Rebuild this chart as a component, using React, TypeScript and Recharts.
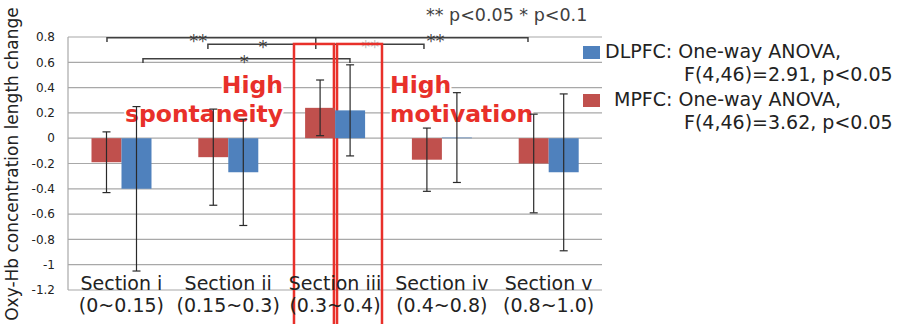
import { BarChart, Bar, XAxis, YAxis, CartesianGrid, ErrorBar, Legend } from "recharts";

// ── Data ─────────────────────────────────────────────────────────────────────

const sections = ["Section i", "Section ii", "Section iii", "Section iv", "Section v"];
const ranges = ["(0~0.15)", "(0.15~0.3)", "(0.3~0.4)", "(0.4~0.8)", "(0.8~1.0)"];
const mpfc = [-0.19, -0.15, 0.24, -0.17, -0.2];
const mpfcErr = [0.24, 0.38, 0.22, 0.25, 0.39];
const dlpfc = [-0.4, -0.27, 0.22, 0.005, -0.27];
const dlpfcErr = [0.65, 0.42, 0.36, 0.355, 0.62];
const yTicks = [-1.2, -1, -0.8, -0.6, -0.4, -0.2, 0, 0.2, 0.4, 0.6, 0.8];

const legendOrder = ["DLPFC", "MPFC"];
const legendText: Record<string, string[]> = {
  DLPFC: ["DLPFC: One-way ANOVA,", "F(4,46)=2.91, p<0.05"],
  MPFC: ["MPFC: One-way ANOVA,", "F(4,46)=3.62, p<0.05"],
};

const data = sections.map((s, i) => ({
  name: s,
  range: ranges[i],
  mpfc: mpfc[i],
  mpfcErr: mpfcErr[i],
  dlpfc: dlpfc[i],
  dlpfcErr: dlpfcErr[i],
}));

// ── Layout ───────────────────────────────────────────────────────────────────

const W = 906;
const H = 324;
const LEFT = 68;
const TOP = 37;
const RIGHT = 602;
const BOTTOM = 290;
const BAND = (RIGHT - LEFT) / sections.length;
const PER_UNIT = (BOTTOM - TOP) / 2.0;

const RED = "#C0504D";
const BLUE = "#4F81BD";
const HILITE = "#E8302A";
const FONT = "'DejaVu Sans', Verdana, sans-serif";

// annotation helpers (category position -> px, value -> px)
const px = (n: number) => LEFT + n * BAND;
const py = (v: number) => TOP + (0.8 - v) * PER_UNIT;

// significance brackets in category units / axis values
const brackets = [
  { x1: 0.365, x2: 4.307, y: 0.795, drop: 0.76 },
  { x1: 1.31, x2: 3.333, y: 0.742, drop: 0.705 },
  { x1: 0.702, x2: 2.64, y: 0.628, drop: 0.595 },
];
const stars = [
  { x: 1.22, y: 0.795, t: "**", o: 1 },
  { x: 3.44, y: 0.795, t: "**", o: 1 },
  { x: 1.826, y: 0.742, t: "*", o: 1 },
  { x: 2.83, y: 0.742, t: "**", o: 0.35 },
  { x: 1.65, y: 0.628, t: "*", o: 1 },
];

const SectionTick = (props: any) => {
  const { x, payload } = props;
  const i = payload.index;
  return (
    <g>
      <text x={x} y={BOTTOM} textAnchor="middle" fontSize={19} fill="#222" fontFamily={FONT}>
        {sections[i]}
      </text>
      <text x={x} y={BOTTOM + 22} textAnchor="middle" fontSize={19} fill="#222" fontFamily={FONT}>
        {ranges[i]}
      </text>
    </g>
  );
};

const fmt = (v: number) => String(Math.round(v * 10) / 10);

const LegendBox = (props: any) => {
  const payload = props.payload || [];
  const items = legendOrder
    .map((n) => payload.find((p: any) => p.value === n))
    .filter(Boolean);
  return (
    <svg width={328} height={100} style={{ display: "block" }}>
      {items.map((it: any, k: number) => {
        const lines = legendText[it.value] || [it.value];
        const top = k * 48;
        return (
          <g key={it.value} fontFamily={FONT} fontSize={19} fill="#222">
            <rect x={5} y={top + 6} width={17} height={13} fill={it.color} />
            <text x={k === 0 ? 27 : 36} y={top + 18}>{lines[0]}</text>
            <text x={106} y={top + 41}>{lines[1]}</text>
          </g>
        );
      })}
    </svg>
  );
};

export default function App() {
  return (
    <div style={{ position: "absolute", left: 0, top: 0, width: W, height: H, background: "#fff", fontFamily: FONT }}>
      <BarChart
        width={W}
        height={H}
        data={data}
        margin={{ top: TOP, right: W - RIGHT, left: 0, bottom: 0 }}
        barCategoryGap="22%"
        barGap={0}
      >
        <CartesianGrid vertical={false} stroke="#a8a8a8" strokeWidth={1.2} />
        <XAxis
          dataKey="name"
          height={H - BOTTOM}
          axisLine={false}
          tickLine={false}
          tick={<SectionTick />}
          interval={0}
        />
        <YAxis
          width={LEFT}
          domain={[-1.2, 0.8]}
          ticks={yTicks}
          tickFormatter={fmt}
          axisLine={{ stroke: "#a8a8a8", strokeWidth: 1.2 }}
          tickLine={false}
          tickSize={0}
          tickMargin={13}
          tick={{ fill: "#222", fontSize: 12, fontFamily: FONT }}
          interval={0}
        />
        <Legend
          layout="horizontal"
          verticalAlign="middle"
          align="center"
          content={<LegendBox />}
          wrapperStyle={{ left: 578, top: 40, width: 328, height: 100 }}
        />
        <Bar dataKey="mpfc" name="MPFC" fill={RED} isAnimationActive={false}>
          <ErrorBar dataKey="mpfcErr" width={4} stroke="#2a2a2a" strokeWidth={1.2} />
        </Bar>
        <Bar dataKey="dlpfc" name="DLPFC" fill={BLUE} isAnimationActive={false}>
          <ErrorBar dataKey="dlpfcErr" width={4} stroke="#2a2a2a" strokeWidth={1.2} />
        </Bar>

        {/* annotations */}
        <g fontFamily={FONT}>
          <text
            transform={`translate(18, ${(10 + 318) / 2}) rotate(-90)`}
            textAnchor="middle"
            fontSize={17}
            fill="#222"
          >
            Oxy-Hb concentration length change
          </text>
          <text x={426} y={21} fontSize={17.5} fill="#404040">
            ** p&lt;0.05 * p&lt;0.1
          </text>
          {brackets.map((b, i) => (
            <path
              key={i}
              d={`M${px(b.x1)},${py(b.drop)} L${px(b.x1)},${py(b.y)} L${px(b.x2)},${py(b.y)} L${px(b.x2)},${py(b.drop)}`}
              fill="none"
              stroke="#404040"
              strokeWidth={1.5}
            />
          ))}
          <line x1={px(2.32)} x2={px(2.32)} y1={py(0.795)} y2={py(0.705)} stroke="#404040" strokeWidth={1.5} />
          {stars.map((s, i) => (
            <text key={i} x={px(s.x)} y={py(s.y) + 9} textAnchor="middle" fontSize={18} fill="#404040" opacity={s.o}>
              {s.t}
            </text>
          ))}
          <g fontSize={23.5} fontWeight="bold" fill={HILITE} stroke="#fff" strokeWidth={4} paintOrder="stroke" strokeLinejoin="round">
            <text x={283} y={93} textAnchor="end">High</text>
            <text x={283} y={122} textAnchor="end">spontaneity</text>
            <text x={390} y={93}>High</text>
            <text x={390} y={122}>motivation</text>
          </g>
          <rect x={px(2.116)} y={py(0.745)} width={px(2.49) - px(2.116)} height={H + 10 - py(0.745)} fill="none" stroke={HILITE} strokeWidth={2.5} />
          <rect x={px(2.519)} y={py(0.745)} width={px(2.94) - px(2.519)} height={H + 10 - py(0.745)} fill="none" stroke={HILITE} strokeWidth={2.5} />
        </g>
      </BarChart>
    </div>
  );
}
